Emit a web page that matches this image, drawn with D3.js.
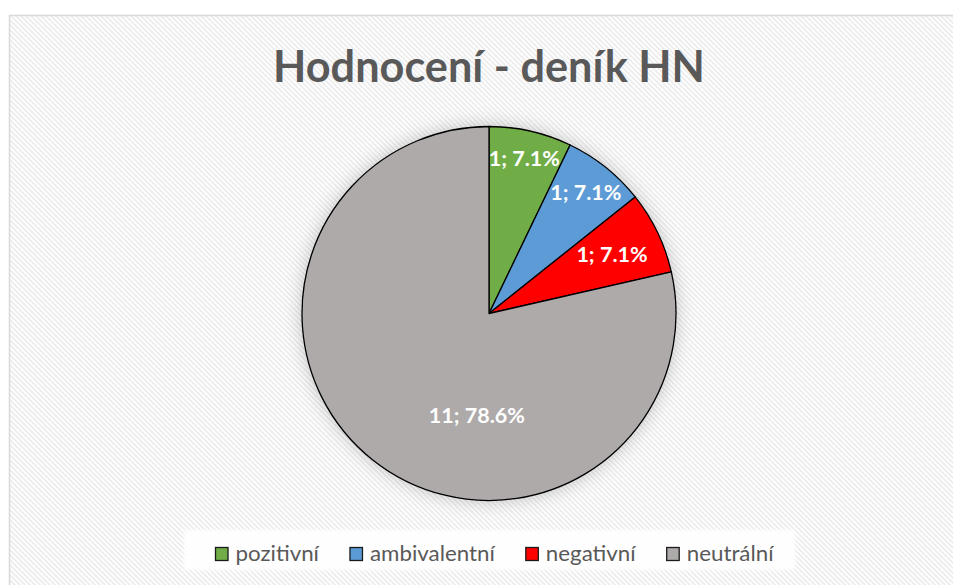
<!DOCTYPE html>
<html><head><meta charset="utf-8">
<script src="https://cdn.jsdelivr.net/npm/d3@7"></script>
<style>html,body{margin:0;padding:0;background:#fff;}svg{display:block;}</style>
</head><body>
<svg id="c" width="953" height="585"></svg>
<script>
const title = "Hodnocení - deník HN";
const categories = ["pozitivní", "ambivalentní", "negativní", "neutrální"];
const values = [1, 1, 1, 11];
const colors = ["#70ad47", "#5b9bd5", "#ff0000", "#aeaaaa"];

const W = 953, H = 585;
const svg = d3.select("#c");
const defs = svg.append("defs");

// hatch pattern background
const pat = defs.append("pattern").attr("id", "hatch").attr("patternUnits", "userSpaceOnUse")
  .attr("width", 5).attr("height", 5);
pat.append("rect").attr("width", 5).attr("height", 5).attr("fill", "#ffffff");
pat.append("path").attr("d", "M-1,-1 L6,6 M-1,4 L1,6 M4,-1 L6,1")
  .attr("stroke", "#ececec").attr("stroke-width", 1.6);

const shadow = defs.append("filter").attr("id", "shadow").attr("x", "-20%").attr("y", "-20%")
  .attr("width", "140%").attr("height", "140%");
shadow.append("feGaussianBlur").attr("in", "SourceAlpha").attr("stdDeviation", 9).attr("result", "b");
shadow.append("feFlood").attr("flood-color", "#000").attr("flood-opacity", 0.22).attr("result", "f");
shadow.append("feComposite").attr("in", "f").attr("in2", "b").attr("operator", "in").attr("result", "s");
const mg = shadow.append("feMerge");
mg.append("feMergeNode").attr("in", "s");
mg.append("feMergeNode").attr("in", "SourceGraphic");

const lg = defs.append("filter").attr("id", "soft").attr("x", "-5%").attr("y", "-30%")
  .attr("width", "110%").attr("height", "160%");
lg.append("feGaussianBlur").attr("stdDeviation", 1.5);

// chart area
svg.append("rect").attr("x", 9.5).attr("y", 15.5).attr("width", W + 10).attr("height", H + 10)
  .attr("fill", "url(#hatch)").attr("stroke", "#d9d9d9").attr("stroke-width", 1.5);

// title
const t = svg.append("text").attr("x", 489).attr("y", 82).attr("text-anchor", "middle")
  .attr("font-family", "Lato, 'Open Sans', sans-serif").attr("font-weight", 700)
  .attr("fill", "#595959").attr("font-size", 44).text(title);
const tw = t.node().getComputedTextLength();
t.attr("font-size", 44 * 432 / tw);

// pie
const cx = 489, cy = 313.5, R = 187;
const pie = d3.pie().sort(null).value(d => d)(values);
const arc = d3.arc().innerRadius(0).outerRadius(R);
const g = svg.append("g").attr("transform", `translate(${cx},${cy})`);
const gs = g.append("g").attr("filter", "url(#shadow)");
gs.selectAll("path").data(pie).enter().append("path")
  .attr("d", arc).attr("fill", (d, i) => colors[i])
  .attr("stroke", "#000").attr("stroke-width", 1.3).attr("stroke-linejoin", "round");

// data labels
const total = d3.sum(values);
const labelLayout = [{r: 0.85, a: null}, {r: 0.83, a: null}, {r: 0.73, a: null}, {r: 0.55, a: 186.8}];
g.selectAll("text.lbl").data(pie).enter().append("text").attr("class", "lbl")
  .attr("transform", (d, i) => {
    const L = labelLayout[i];
    const ang = L.a !== null ? L.a * Math.PI / 180 : (d.startAngle + d.endAngle) / 2;
    const rr = R * L.r;
    return `translate(${rr * Math.sin(ang)},${-rr * Math.cos(ang)})`;
  })
  .attr("text-anchor", "middle").attr("dy", "0.36em")
  .attr("font-family", "Lato, 'Open Sans', sans-serif").attr("font-weight", 700)
  .attr("font-size", 21.5).attr("fill", "#fff")
  .text(d => `${d.value}; ${(d.value / total * 100).toFixed(1)}%`);

// legend
svg.append("rect").attr("x", 184).attr("y", 530).attr("width", 611).attr("height", 40)
  .attr("fill", "#ffffff").attr("fill-opacity", 0.9).attr("filter", "url(#soft)");
const legend = svg.append("g");
const items = legend.selectAll("g").data(categories).enter().append("g");
items.append("rect").attr("width", 12.5).attr("height", 13).attr("y", -6.5)
  .attr("fill", (d, i) => colors[i]).attr("stroke", "#1a1a1a").attr("stroke-width", 1.3);
const ltxt = items.append("text").attr("x", 20).attr("dy", "0.35em")
  .attr("font-family", "Lato, 'Open Sans', sans-serif").attr("font-size", 21)
  .attr("fill", "#595959").text(d => d);
// fit to the reference face's total width
let sumW = 0;
ltxt.each(function () { sumW += this.getComputedTextLength(); });
const squeeze = 385 / sumW;
let widths = [];
ltxt.each(function () {
  const w = this.getComputedTextLength() * squeeze;
  d3.select(this).attr("textLength", w).attr("lengthAdjust", "spacingAndGlyphs");
  widths.push(w + 20);
});
const gap = 31;
let x0 = 215.5;
items.attr("transform", (d, i) => {
  const x = x0; x0 += widths[i] + gap;
  return `translate(${x},554)`;
});
</script>
</body></html>
